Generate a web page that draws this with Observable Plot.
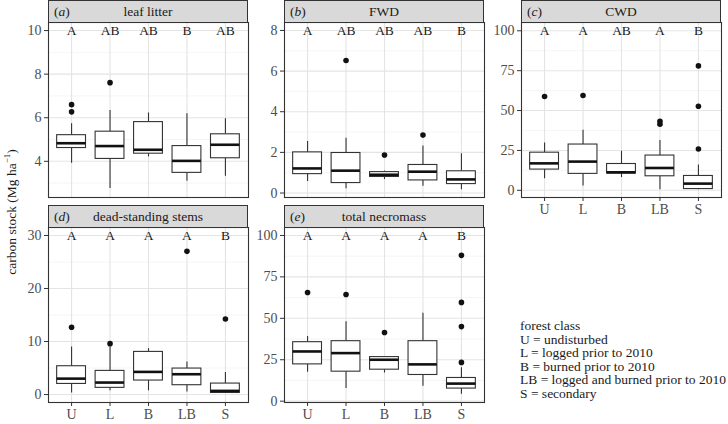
<!DOCTYPE html>
<html><head><meta charset="utf-8">
<script src="https://cdn.jsdelivr.net/npm/d3@7"></script>
<script src="https://cdn.jsdelivr.net/npm/@observablehq/plot@0.6"></script>
<style>
body{margin:0;background:#fff;}
#fig{position:relative;width:728px;height:424px;overflow:hidden;font-family:"Liberation Serif",serif;color:#1a1a1a;background:#fff;}
#fig svg, #fig svg text{font-family:"Liberation Serif",serif !important;}
.strip{position:absolute;box-sizing:border-box;background:#d9d9d9;border:1px solid #333;height:23px;font-size:13.5px;line-height:21px;text-align:center;color:#1a1a1a;}
.strip .tag{position:absolute;left:5px;top:0;}
.panel{position:absolute;}
.ytitle{position:absolute;left:11px;top:212px;transform:translate(-50%,-50%) rotate(-90deg);white-space:nowrap;font-size:13.5px;color:#1a1a1a;}
.legend{position:absolute;left:520px;top:319px;font-size:13.5px;line-height:13.6px;color:#1a1a1a;white-space:nowrap;}
</style>
</head><body>
<div id="fig"></div>
<script>
// forest classes (x categories)
const classes = ["U", "L", "B", "LB", "S"];

// (a) leaf litter
const leafLo  = [3.91, 2.75, 4.20, 3.08, 3.31];
const leafQ1  = [4.61, 4.11, 4.35, 3.47, 4.14];
const leafMed = [4.83, 4.70, 4.53, 4.02, 4.76];
const leafQ3  = [5.20, 5.36, 5.80, 4.70, 5.24];
const leafHi  = [5.72, 6.33, 6.22, 6.18, 5.95];
const leafOutClass = ["U", "U", "L"];
const leafOutVal   = [6.60, 6.27, 7.61];
const leafLetters  = ["A", "AB", "AB", "B", "AB"];

// (b) FWD
const fwdLo  = [0.57, 0.21, 0.66, 0.33, 0.16];
const fwdQ1  = [0.93, 0.49, 0.79, 0.62, 0.44];
const fwdMed = [1.21, 1.10, 0.90, 1.05, 0.67];
const fwdQ3  = [2.00, 1.97, 1.03, 1.38, 1.07];
const fwdHi  = [2.54, 2.70, 1.08, 2.31, 1.93];
const fwdOutClass = ["L", "B", "LB"];
const fwdOutVal   = [6.52, 1.87, 2.85];
const fwdLetters  = ["A", "AB", "AB", "AB", "B"];

// (c) CWD
const cwdLo  = [7.3, 2.7, 8.0, 0.4, 0.4];
const cwdQ1  = [13.0, 10.3, 10.5, 8.8, 0.8];
const cwdMed = [16.9, 18.0, 11.3, 14.0, 4.2];
const cwdQ3  = [23.6, 28.7, 16.5, 21.8, 9.0];
const cwdHi  = [29.7, 37.7, 24.5, 31.2, 15.9];
const cwdOutClass = ["U", "L", "LB", "LB", "S", "S", "S"];
const cwdOutVal   = [58.8, 59.4, 43.3, 41.4, 78.0, 52.7, 25.9];
const cwdLetters  = ["A", "A", "AB", "A", "B"];

// (d) dead-standing stems
const dssLo  = [0.3, 0.7, 0.7, 0.5, 0.2];
const dssQ1  = [2.00, 1.26, 2.64, 1.76, 0.30];
const dssMed = [3.00, 2.26, 4.27, 3.83, 0.69];
const dssQ3  = [5.34, 4.46, 8.04, 4.90, 2.07];
const dssHi  = [8.98, 8.98, 8.66, 6.15, 4.14];
const dssOutClass = ["U", "L", "LB", "S"];
const dssOutVal   = [12.7, 9.6, 27.0, 14.25];
const dssLetters  = ["A", "A", "A", "A", "B"];

// (e) total necromass
const totLo  = [17.4, 7.6, 17.0, 9.0, 4.2];
const totQ1  = [22.2, 17.8, 19.0, 15.8, 7.6];
const totMed = [30.0, 29.0, 25.0, 22.2, 10.6];
const totQ3  = [35.6, 36.2, 26.6, 36.2, 14.0];
const totHi  = [39.0, 48.0, 26.6, 53.0, 20.2];
const totOutClass = ["U", "L", "B", "S", "S", "S", "S"];
const totOutVal   = [65.6, 64.4, 41.4, 88.0, 59.6, 45.0, 23.4];
const totLetters  = ["A", "A", "A", "A", "B"];

const panels = [
  {tag:"a", title:"leaf litter", col:0, row:0, xaxis:false, domain:[2.34, 10.37], ticks:[4,6,8,10], minor:[3,5,7,9], letterY:10,
   lo:leafLo, q1:leafQ1, med:leafMed, q3:leafQ3, hi:leafHi, outClass:leafOutClass, outVal:leafOutVal, letters:leafLetters},
  {tag:"b", title:"FWD", col:1, row:0, xaxis:false, domain:[-0.22, 8.39], ticks:[0,2,4,6,8], minor:[1,3,5,7], letterY:8,
   lo:fwdLo, q1:fwdQ1, med:fwdMed, q3:fwdQ3, hi:fwdHi, outClass:fwdOutClass, outVal:fwdOutVal, letters:fwdLetters},
  {tag:"c", title:"CWD", col:2, row:0, xaxis:true, domain:[-4.5, 105.2], ticks:[0,25,50,75,100], minor:[12.5,37.5,62.5,87.5], letterY:100,
   lo:cwdLo, q1:cwdQ1, med:cwdMed, q3:cwdQ3, hi:cwdHi, outClass:cwdOutClass, outVal:cwdOutVal, letters:cwdLetters},
  {tag:"d", title:"dead-standing stems", col:0, row:1, xaxis:true, domain:[-1.5, 31.5], ticks:[0,10,20,30], minor:[5,15,25], letterY:30,
   lo:dssLo, q1:dssQ1, med:dssMed, q3:dssQ3, hi:dssHi, outClass:dssOutClass, outVal:dssOutVal, letters:dssLetters},
  {tag:"e", title:"total necromass", col:1, row:1, xaxis:true, domain:[-0.8, 104.8], ticks:[0,25,50,75,100], minor:[12.5,37.5,62.5,87.5], letterY:100,
   lo:totLo, q1:totQ1, med:totMed, q3:totQ3, hi:totHi, outClass:totOutClass, outVal:totOutVal, letters:totLetters}
];

const colX = [48, 284, 521];
const rowY = [22, 227];
const W = 200, H = 175, ML = 40, MT = 1, MR = 2;
const FONT = "Liberation Serif, serif";
const fig = document.getElementById("fig");
const xs = classes.map((c, i) => i + 1);

for (const p of panels) {
  const stats = classes.map((c, i) => ({x: i + 1, lo: p.lo[i], q1: p.q1[i], med: p.med[i], q3: p.q3[i], hi: p.hi[i]}));
  const outs = p.outClass.map((c, i) => ({x: classes.indexOf(c) + 1, y: p.outVal[i]}));
  const lets = classes.map((c, i) => ({x: i + 1, y: p.letterY, t: p.letters[i]}));
  const MB = p.xaxis ? 26 : 1;
  const svg = Plot.plot({
    width: ML + W + MR, height: MT + H + MB,
    marginLeft: ML, marginRight: MR, marginTop: MT, marginBottom: MB,
    x: {domain: [0.4, 5.6], label: null, axis: null},
    y: {domain: p.domain, label: null, axis: null},
    style: {fontFamily: FONT, fontSize: "14px", color: "#333", background: "transparent", overflow: "visible"},
    marks: [
      Plot.gridY(p.minor, {stroke: "#f1f1f1", strokeOpacity: 1, strokeWidth: 0.7}),
      Plot.gridY(p.ticks, {stroke: "#e4e4e4", strokeOpacity: 1, strokeWidth: 1.1}),
      Plot.gridX(xs, {stroke: "#e4e4e4", strokeOpacity: 1, strokeWidth: 1.1}),
      Plot.axisY(p.ticks, {tickSize: 4, tickPadding: 3, stroke: "#333", fill: "#4d4d4d", fontSize: 14, fontFamily: FONT, label: null}),
      p.xaxis ? Plot.axisX(xs, {tickSize: 4, tickPadding: 3, stroke: "#333", fill: "#4d4d4d", fontSize: 14, fontFamily: FONT, label: null, tickFormat: i => classes[i - 1]}) : null,
      Plot.ruleX(stats, {x: "x", y1: "lo", y2: "q1", stroke: "#333", strokeWidth: 1.1}),
      Plot.ruleX(stats, {x: "x", y1: "q3", y2: "hi", stroke: "#333", strokeWidth: 1.1}),
      Plot.rect(stats, {x1: d => d.x - 0.375, x2: d => d.x + 0.375, y1: "q1", y2: "q3", fill: "white", stroke: "#333", strokeWidth: 1.1}),
      Plot.ruleY(stats, {y: "med", x1: d => d.x - 0.375, x2: d => d.x + 0.375, stroke: "#111", strokeWidth: 2.6}),
      Plot.dot(outs, {x: "x", y: "y", r: 2.8, fill: "#111", stroke: "none"}),
      Plot.text(lets, {x: "x", y: "y", text: "t", fontSize: 13.5, fontFamily: FONT, fill: "#1a1a1a"}),
      Plot.frame({stroke: "#333", strokeWidth: 1.1})
    ]
  });
  const wrap = document.createElement("div");
  wrap.className = "panel";
  wrap.style.left = (colX[p.col] - ML) + "px";
  wrap.style.top = (rowY[p.row] - MT) + "px";
  wrap.appendChild(svg);
  fig.appendChild(wrap);

  const strip = document.createElement("div");
  strip.className = "strip";
  strip.style.left = colX[p.col] + "px";
  strip.style.width = W + "px";
  strip.style.top = (rowY[p.row] - 22) + "px";
  strip.innerHTML = `<span class="tag">(<i>${p.tag}</i>)</span>${p.title}`;
  fig.appendChild(strip);
}

const yt = document.createElement("div");
yt.className = "ytitle";
yt.innerHTML = "carbon stock (Mg ha<sup style='font-size:9px'>−1</sup>)";
fig.appendChild(yt);

const legendLines = ["forest class", "U = undisturbed", "L = logged prior to 2010", "B = burned prior to 2010", "LB = logged and burned prior to 2010", "S = secondary"];
const lg = document.createElement("div");
lg.className = "legend";
lg.innerHTML = legendLines.join("<br>");
fig.appendChild(lg);
</script>
</body></html>
